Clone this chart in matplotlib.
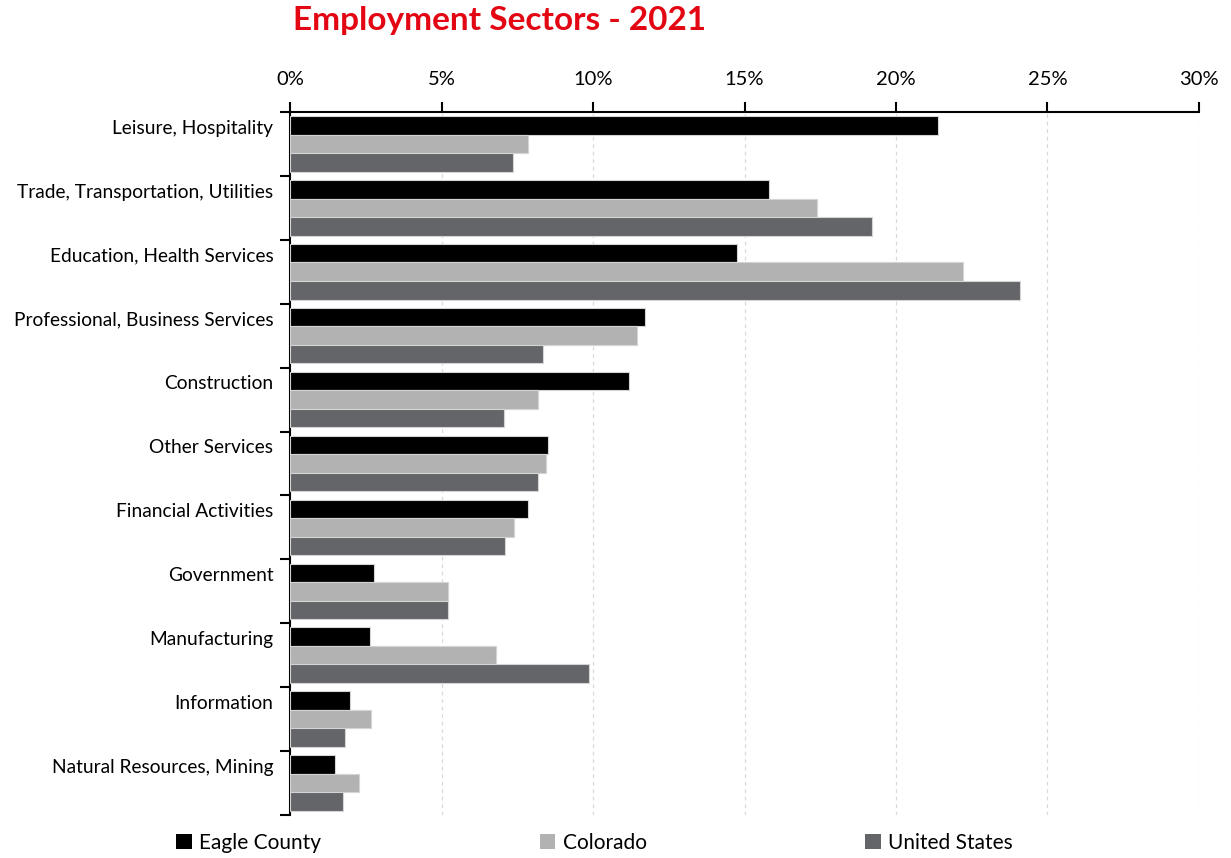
import matplotlib
matplotlib.use("Agg")
import matplotlib.pyplot as plt
from matplotlib.ticker import FixedLocator, FuncFormatter
from matplotlib.patches import Patch

plt.rcParams['font.family'] = ['Lato', 'DejaVu Sans']

sectors = [
    "Leisure, Hospitality",
    "Trade, Transportation, Utilities",
    "Education, Health Services",
    "Professional, Business Services",
    "Construction",
    "Other Services",
    "Financial Activities",
    "Government",
    "Manufacturing",
    "Information",
    "Natural Resources, Mining",
]
eagle_county = [21.4, 15.8, 14.75, 11.7, 11.2, 8.5, 7.85, 2.77, 2.64, 1.98, 1.49]
colorado = [7.85, 17.4, 22.2, 11.45, 8.2, 8.45, 7.4, 5.2, 6.8, 2.67, 2.28]
united_states = [7.36, 19.2, 24.1, 8.35, 7.06, 8.2, 7.1, 5.2, 9.87, 1.8, 1.75]
x_ticks = [0, 5, 10, 15, 20, 25, 30]

series = [
    ("Eagle County", eagle_county, "#000000"),
    ("Colorado", colorado, "#b2b2b2"),
    ("United States", united_states, "#646569"),
]

fig = plt.figure(figsize=(12.31, 8.58), dpi=100)
ax = fig.add_axes([0.2356, 0.0501, 0.7384, 0.8194])

n = len(sectors)
h = 0.29
offsets = [-0.29, 0.0, 0.29]
for (name, vals, col), off in zip(series, offsets):
    ax.barh([i + off for i in range(n)], vals, height=h, color=col,
            edgecolor="#d4d4d4", linewidth=0.8, label=name, zorder=3)

ax.set_xlim(0, 30)
ax.set_ylim(n - 0.5, -0.5)

# x axis on top
ax.xaxis.tick_top()
ax.xaxis.set_major_locator(FixedLocator(x_ticks))
ax.xaxis.set_major_formatter(FuncFormatter(lambda v, p: f"{v:.0f}%"))
ax.tick_params(axis="x", which="major", direction="out", length=7, width=1.5,
               pad=10, labelsize=14.5, colors="#000000")
ax.grid(axis="x", linestyle=(0, (3, 3)), color="#d9d9d9", linewidth=0.9, zorder=0)

# y axis: boundary ticks, labels near top of each group
ax.yaxis.set_major_locator(FixedLocator([i - 0.5 for i in range(n + 1)]))
ax.yaxis.set_major_formatter(FuncFormatter(lambda v, p: ""))
ax.yaxis.set_minor_locator(FixedLocator([i - 0.27 for i in range(n)]))
ax.set_yticklabels(sectors, minor=True)
ax.tick_params(axis="y", which="major", direction="out", length=7, width=1.5)
ax.tick_params(axis="y", which="minor", length=0, pad=12, labelsize=13.8)

for side in ("right", "bottom"):
    ax.spines[side].set_visible(False)
ax.spines["top"].set_linewidth(1.5)
ax.spines["left"].set_linewidth(1.5)

fig.text(0.238, 0.993, "Employment Sectors - 2021", color="#e30613",
         fontsize=24, fontweight="bold", ha="left", va="top")

handles = [Patch(facecolor=c, edgecolor="none") for _, _, c in series]
labels = [s[0] for s in series]
fig.legend(handles, labels, loc="center left", bbox_to_anchor=(0.143, 0.018),
           ncol=3, frameon=False, fontsize=15, handlelength=0.75, handleheight=0.75,
           handletextpad=0.35, columnspacing=10.5, borderaxespad=0, borderpad=0)

fig.savefig("out.png", dpi=100)
